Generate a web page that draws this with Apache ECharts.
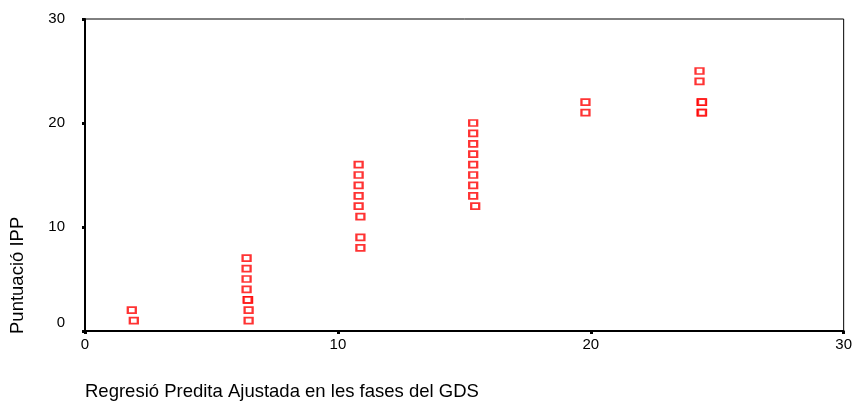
<!DOCTYPE html>
<html><head><meta charset="utf-8">
<script src="https://cdn.jsdelivr.net/npm/echarts@6/dist/echarts.min.js"></script>
<style>html,body{margin:0;padding:0;background:#fff}#c{width:855px;height:401px}</style>
</head><body><div id="c"></div>
<script>
// Predicted (x) and observed IPP score (y)
const predX = [1.85,1.93, 6.39,6.39,6.39,6.39,6.45,6.43,6.47,6.47, 10.82,10.82,10.82,10.82,10.82,10.89,10.89,10.89,
  15.35,15.35,15.35,15.35,15.35,15.35,15.35,15.35,15.43, 19.79,19.79, 24.30,24.30,24.38,24.38,24.40,24.40];
const ippY  = [2,1, 7,6,5,4,3,3,2,1, 16,15,14,13,12,11,9,8,
  20,19,18,17,16,15,14,13,12, 22,21, 25,24,22,21,22,21];
const xTicks = [0,10,20,30];
const yTicks = [0,10,20,30];
const xTitle = 'Regresió Predita Ajustada en les fases del GDS';
const yTitle = 'Puntuació IPP';

const points = predX.map((x,i)=>[x, ippY[i]]);
const chart = echarts.init(document.getElementById('c'));
const font = 'Liberation Sans, Arial, sans-serif';
chart.setOption({
  animation:false,
  backgroundColor:'#fff',
  grid:{left:85,right:6,top:19,bottom:70,show:true,borderColor:'#000',borderWidth:1,backgroundColor:'transparent'},
  xAxis:{type:'value',min:0,max:30,interval:10,
    axisLine:{show:true,lineStyle:{color:'#000',width:2}},
    axisTick:{show:true,length:3,lineStyle:{color:'#000',width:3}},
    axisLabel:{color:'#000',fontSize:15,fontFamily:font,margin:6,
      formatter:v=>xTicks.includes(v)?String(v):''},
    splitLine:{show:false}},
  yAxis:{type:'value',min:0,max:30,interval:10,
    axisLine:{show:true,lineStyle:{color:'#000',width:2}},
    axisTick:{show:true,length:3,lineStyle:{color:'#000',width:3}},
    axisLabel:{color:'#000',fontSize:15,fontFamily:font,margin:20,
      formatter:v=>yTicks.includes(v)?(v===0?'{z|0}':String(v)):'',
      rich:{z:{fontSize:15,fontFamily:font,color:'#000',padding:[0,0,16,0]}}},
    splitLine:{show:false}},
  graphic:[
    {type:'text',left:85,top:382,style:{text:xTitle,font:'18.5px '+font,fill:'#000'}},
    {type:'text',x:8,y:334,rotation:Math.PI/2,style:{text:yTitle,font:'18.5px '+font,fill:'#000',textAlign:'left',textVerticalAlign:'top'}}
  ],
  series:[{type:'scatter',data:points,symbol:'rect',symbolSize:[8,6],
    itemStyle:{color:'#fff',borderColor:'#ff0000',borderWidth:2}}]
});
</script></body></html>
